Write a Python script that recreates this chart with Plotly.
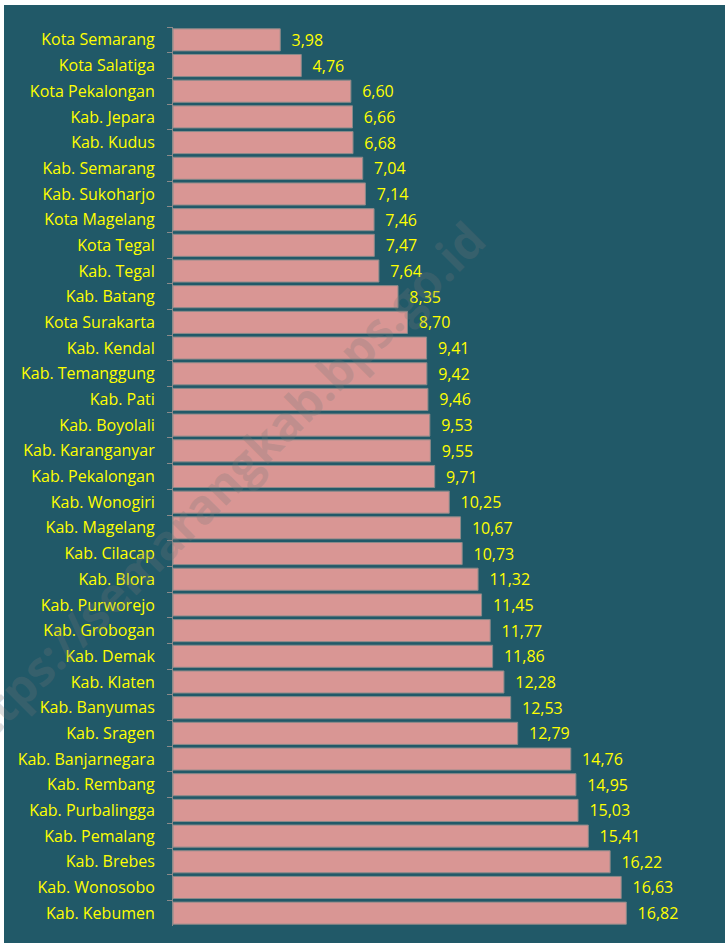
import plotly.graph_objects as go

regions = [
    "Kota Semarang", "Kota Salatiga", "Kota Pekalongan", "Kab. Jepara", "Kab. Kudus",
    "Kab. Semarang", "Kab. Sukoharjo", "Kota Magelang", "Kota Tegal", "Kab. Tegal",
    "Kab. Batang", "Kota Surakarta", "Kab. Kendal", "Kab. Temanggung", "Kab. Pati",
    "Kab. Boyolali", "Kab. Karanganyar", "Kab. Pekalongan", "Kab. Wonogiri", "Kab. Magelang",
    "Kab. Cilacap", "Kab. Blora", "Kab. Purworejo", "Kab. Grobogan", "Kab. Demak",
    "Kab. Klaten", "Kab. Banyumas", "Kab. Sragen", "Kab. Banjarnegara", "Kab. Rembang",
    "Kab. Purbalingga", "Kab. Pemalang", "Kab. Brebes", "Kab. Wonosobo", "Kab. Kebumen",
]
values = [
    3.98, 4.76, 6.60, 6.66, 6.68,
    7.04, 7.14, 7.46, 7.47, 7.64,
    8.35, 8.70, 9.41, 9.42, 9.46,
    9.53, 9.55, 9.71, 10.25, 10.67,
    10.73, 11.32, 11.45, 11.77, 11.86,
    12.28, 12.53, 12.79, 14.76, 14.95,
    15.03, 15.41, 16.22, 16.63, 16.82,
]
watermark = "https://semarangkab.bps.go.id"

TEAL = "#215968"
PINK = "#d99694"
YELLOW = "#ffff00"
FONT = "Open Sans"

W, H = 725, 943
L, T, B = 173, 27, 17
XMAX = 20
PX_PER_UNIT = 26.95
PW = XMAX * PX_PER_UNIT
R = W - L - PW
PH = H - T - B

def px(xp):
    return (xp - L) / PW

def py(yp):
    return (H - B - yp) / PH

fig = go.Figure(
    go.Bar(
        x=values,
        y=regions,
        orientation="h",
        marker=dict(color=PINK, line=dict(color="#8a8a8a", width=1)),
        texttemplate="\u00a0\u00a0%{x:.2f}",
        textposition="outside",
        textfont=dict(color=YELLOW, size=16, family=FONT),
        cliponaxis=False,
        hoverinfo="skip",
    )
)

fig.add_shape(
    type="rect", xref="paper", yref="paper",
    x0=px(4), x1=px(W + 2), y0=py(H + 2), y1=py(5),
    fillcolor=TEAL, line=dict(width=0), layer="below",
)

fig.add_annotation(
    text=watermark, xref="paper", yref="paper",
    x=px(215), y=py(490), xanchor="center", yanchor="middle",
    showarrow=False, textangle=-45,
    font=dict(family=FONT, size=48, color="rgba(120,120,120,0.25)", weight="bold"),
)

fig.update_layout(
    width=W, height=H,
    margin=dict(l=L, r=R, t=T, b=B, pad=0),
    paper_bgcolor="white",
    plot_bgcolor=TEAL,
    separators=",.",
    showlegend=False,
    bargap=0.14,
    xaxis=dict(
        range=[0, XMAX], visible=False, showgrid=False, zeroline=False, fixedrange=True,
    ),
    yaxis=dict(
        autorange="reversed",
        showgrid=False, zeroline=False,
        showline=True, linecolor="#8a8a8a", linewidth=1,
        ticks="outside", tickson="boundaries", ticklen=5, tickcolor="#8a8a8a",
        tickfont=dict(color=YELLOW, size=16, family=FONT),
        ticklabelstandoff=14,
        automargin=False,
        fixedrange=True,
    ),
)

fig.write_html(
    "out.html",
    config={"displayModeBar": False, "staticPlot": True},
    post_script="document.body.style.margin='0';document.body.style.overflow='hidden';",
)
